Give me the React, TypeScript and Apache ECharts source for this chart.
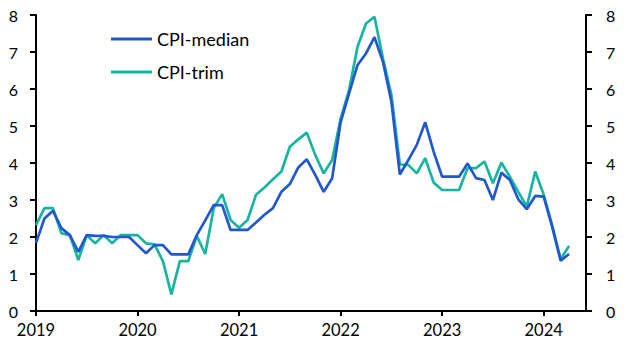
import React, { useEffect, useRef } from "react";
import * as echarts from "echarts";

const years = ["2019", "2020", "2021", "2022", "2023", "2024"];
const monthsShown = 66; // Jan 2019 .. Jun 2024

const cpiMedian = [
  1.84, 2.5, 2.71, 2.24, 2.05, 1.6, 2.05, 2.03, 2.03, 2.0, 2.0, 2.0,
  1.78, 1.56, 1.78, 1.78, 1.53, 1.53, 1.53, 2.05, 2.45, 2.86, 2.86, 2.19,
  2.19, 2.19, 2.39, 2.6, 2.78, 3.22, 3.43, 3.88, 4.1, 3.68, 3.22, 3.59,
  5.1, 5.88, 6.65, 6.96, 7.4, 6.74, 5.66, 3.69, 4.08, 4.49, 5.1, 4.3,
  3.63, 3.63, 3.63, 3.99, 3.59, 3.54, 3.0, 3.74, 3.54, 3.02, 2.75, 3.11,
  3.09, 2.28, 1.36, 1.54,
];

const cpiTrim = [
  2.32, 2.78, 2.78, 2.1, 2.05, 1.38, 2.05, 1.83, 2.05, 1.83, 2.05, 2.05,
  2.05, 1.83, 1.8, 1.35, 0.45, 1.35, 1.35, 2.03, 1.54, 2.78, 3.16, 2.46,
  2.25, 2.46, 3.14, 3.34, 3.56, 3.77, 4.44, 4.64, 4.82, 4.22, 3.72, 4.08,
  5.2, 5.97, 7.14, 7.77, 7.95, 6.83, 5.84, 3.96, 3.95, 3.72, 4.13, 3.47,
  3.27, 3.27, 3.27, 3.86, 3.86, 4.04, 3.45, 4.01, 3.63, 3.22, 2.82, 3.77,
  3.14, 2.32, 1.4, 1.76,
];

const categories: string[] = [];
for (let i = 0; i < monthsShown; i++) {
  const y = 2019 + Math.floor(i / 12);
  const m = (i % 12) + 1;
  categories.push(`${y}-${m < 10 ? "0" + m : m}`);
}

const FONT = "Lato, 'Open Sans', sans-serif";

export default function App() {
  const ref = useRef<HTMLDivElement>(null);
  useEffect(() => {
    if (!ref.current) return;
    const chart = echarts.init(ref.current, undefined, { renderer: "svg" });
    const axisLine = { show: true, lineStyle: { color: "#000", width: 2 } };
    const axisTick = { show: true, inside: false, length: 6, lineStyle: { color: "#000", width: 2 } };
    const yBase = {
      type: "value" as const,
      min: 0,
      max: 8,
      interval: 1,
      splitLine: { show: false },
      axisLine,
      axisTick,
    };
    chart.setOption({
      animation: false,
      textStyle: { fontFamily: FONT },
      grid: { left: 36, right: 42, top: 15, bottom: 43, containLabel: false },
      legend: {
        orient: "vertical",
        left: 111,
        top: 30,
        padding: 0,
        icon: "rect",
        itemWidth: 41,
        itemHeight: 3,
        itemGap: 15,
        textStyle: { fontFamily: FONT, fontSize: 18, color: "#000", padding: [0, 0, 0, 0] },
        data: ["CPI-median", "CPI-trim"],
      },
      xAxis: {
        type: "category",
        data: categories,
        boundaryGap: false,
        axisLine,
        axisTick: { ...axisTick, length: 5, interval: (i: number) => i % 12 === 0 },
        axisLabel: {
          interval: (i: number) => i % 12 === 0,
          formatter: (v: string) => {
            const y = v.slice(0, 4);
            return years.includes(y) ? y : "";
          },
          color: "#000",
          fontSize: 16.5,
          fontFamily: FONT,
          margin: 10,
        },
        splitLine: { show: false },
      },
      yAxis: [
        {
          ...yBase,
          position: "left",
          axisLabel: { color: "#000", fontSize: 16, fontFamily: FONT, margin: 18 },
        },
        {
          ...yBase,
          position: "right",
          axisLabel: { color: "#000", fontSize: 16, fontFamily: FONT, margin: 20 },
        },
      ],
      series: [
        {
          name: "CPI-median",
          type: "line",
          data: cpiMedian,
          yAxisIndex: 0,
          showSymbol: false,
          symbol: "none",
          lineStyle: { color: "#2157CF", width: 2.7 },
          itemStyle: { color: "#2157CF" },
          z: 3,
        },
        {
          name: "CPI-trim",
          type: "line",
          data: cpiTrim,
          yAxisIndex: 0,
          showSymbol: false,
          symbol: "none",
          lineStyle: { color: "#17B5A0", width: 2.7 },
          itemStyle: { color: "#17B5A0" },
          z: 2,
        },
      ],
    });
    return () => chart.dispose();
  }, []);
  return (
    <div
      ref={ref}
      style={{ position: "fixed", left: 0, top: 0, width: 628, height: 354, background: "#fff" }}
    />
  );
}
